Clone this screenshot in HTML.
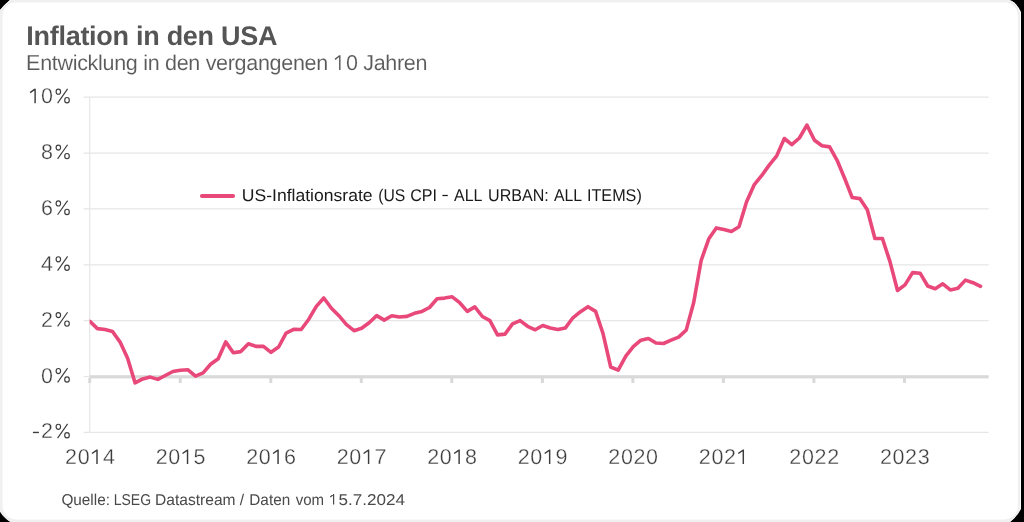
<!DOCTYPE html>
<html><head><meta charset="utf-8">
<style>
html,body{margin:0;padding:0;background:#000;width:1024px;height:522px;overflow:hidden}
svg{position:absolute;left:0;top:0;will-change:transform}
</style></head><body>
<svg width="1024" height="522" viewBox="0 0 1024 522" font-family="Liberation Sans" text-rendering="geometricPrecision">
 <path d="M10,0 L1009,0 Q1016,1.5 1021,12 L1021,509 Q1016,518 1010,522 L10.5,522 Q4,518 0,511.5 L0,10 Q4.5,4.5 10,0 Z" fill="#fff"/>
 <path d="M10,0 L1009,0 Q1016,1.5 1020,12 L1020,509 Q1016,518 1010,522 L10.5,522 Q4,518 0,511.5 L0,10 Q4.5,4.5 10,0 Z" fill="#f0f0f0"/>
 <rect x="2.6" y="2.6" width="1015.2" height="516.8" rx="13" fill="#fff"/>
 <text x="26.3" y="45" font-size="27" font-weight="bold" letter-spacing="-0.28" fill="#555">Inflation in den USA</text>
 <text x="26.1" y="70" font-size="21.5" letter-spacing="-0.3" fill="#5a5a5a" stroke="#fff" stroke-width="0.1">Entwicklung in den vergangenen <tspan x="345.9">0 Jahren</tspan></text>
 <path d="M339.8,69.9 V55.3 M339.65,55.75 L335.0,59.3" fill="none" stroke="#5a5a5a" stroke-width="1.45"/>
 <g stroke="#e6e6e6" stroke-width="1.2" fill="none">
  <line x1="83.6" y1="97.2" x2="988.7" y2="97.2"/>
  <line x1="83.6" y1="153.1" x2="988.7" y2="153.1"/>
  <line x1="83.6" y1="208.9" x2="988.7" y2="208.9"/>
  <line x1="83.6" y1="264.8" x2="988.7" y2="264.8"/>
  <line x1="83.6" y1="320.6" x2="988.7" y2="320.6"/>
  <line x1="83.6" y1="376.5" x2="988.7" y2="376.5"/>
  <line x1="83.6" y1="432.3" x2="988.7" y2="432.3"/>
  <line x1="89.7" y1="97.2" x2="89.7" y2="432.3"/>
 </g>
 <g fill="#d9d9d9">
  <rect x="89.7" y="375.2" width="899" height="3.2"/>
  <rect x="88.2" y="378" width="3" height="5"/>
  <rect x="178.7" y="378" width="3" height="5"/>
  <rect x="269.3" y="378" width="3" height="5"/>
  <rect x="359.8" y="378" width="3" height="5"/>
  <rect x="450.3" y="378" width="3" height="5"/>
  <rect x="540.9" y="378" width="3" height="5"/>
  <rect x="631.4" y="378" width="3" height="5"/>
  <rect x="721.9" y="378" width="3" height="5"/>
  <rect x="812.4" y="378" width="3" height="5"/>
  <rect x="903.0" y="378" width="3" height="5"/>
 </g>
 
 <g fill="none" stroke="#3d3d3d" stroke-width="1.15">
  <line x1="32.9" y1="432.45" x2="38.9" y2="432.45" stroke-width="1.4"/>
  <ellipse cx="58.35" cy="91.70" rx="2.25" ry="2.55"/><ellipse cx="67.00" cy="100.20" rx="2.3" ry="2.65"/><line x1="67.60" y1="88.85" x2="57.60" y2="103.05"/>
  <ellipse cx="58.35" cy="147.60" rx="2.25" ry="2.55"/><ellipse cx="67.00" cy="156.10" rx="2.3" ry="2.65"/><line x1="67.60" y1="144.75" x2="57.60" y2="158.95"/>
  <ellipse cx="58.35" cy="203.40" rx="2.25" ry="2.55"/><ellipse cx="67.00" cy="211.90" rx="2.3" ry="2.65"/><line x1="67.60" y1="200.55" x2="57.60" y2="214.75"/>
  <ellipse cx="58.35" cy="259.30" rx="2.25" ry="2.55"/><ellipse cx="67.00" cy="267.80" rx="2.3" ry="2.65"/><line x1="67.60" y1="256.45" x2="57.60" y2="270.65"/>
  <ellipse cx="58.35" cy="315.10" rx="2.25" ry="2.55"/><ellipse cx="67.00" cy="323.60" rx="2.3" ry="2.65"/><line x1="67.60" y1="312.25" x2="57.60" y2="326.45"/>
  <ellipse cx="58.35" cy="371.00" rx="2.25" ry="2.55"/><ellipse cx="67.00" cy="379.50" rx="2.3" ry="2.65"/><line x1="67.60" y1="368.15" x2="57.60" y2="382.35"/>
  <ellipse cx="58.35" cy="426.80" rx="2.25" ry="2.55"/><ellipse cx="67.00" cy="435.30" rx="2.3" ry="2.65"/><line x1="67.60" y1="423.95" x2="57.60" y2="438.15"/>
 </g>
 <g font-size="21.5" fill="#3d3d3d" text-anchor="middle" stroke="#fff" stroke-width="0.3">
  <text x="71.10" y="464">2</text>
  <text x="83.70" y="464">0</text>
  <text x="108.90" y="464">4</text>
  <text x="161.63" y="464">2</text>
  <text x="174.23" y="464">0</text>
  <text x="199.43" y="464">5</text>
  <text x="252.16" y="464">2</text>
  <text x="264.76" y="464">0</text>
  <text x="289.96" y="464">6</text>
  <text x="342.69" y="464">2</text>
  <text x="355.29" y="464">0</text>
  <text x="380.49" y="464">7</text>
  <text x="433.22" y="464">2</text>
  <text x="445.82" y="464">0</text>
  <text x="471.02" y="464">8</text>
  <text x="523.75" y="464">2</text>
  <text x="536.35" y="464">0</text>
  <text x="561.55" y="464">9</text>
  <text x="614.28" y="464">2</text>
  <text x="626.88" y="464">0</text>
  <text x="639.48" y="464">2</text>
  <text x="652.08" y="464">0</text>
  <text x="704.81" y="464">2</text>
  <text x="717.41" y="464">0</text>
  <text x="730.01" y="464">2</text>
  <text x="795.34" y="464">2</text>
  <text x="807.94" y="464">0</text>
  <text x="820.54" y="464">2</text>
  <text x="833.14" y="464">2</text>
  <text x="885.87" y="464">2</text>
  <text x="898.47" y="464">0</text>
  <text x="911.07" y="464">2</text>
  <text x="923.67" y="464">3</text>
  <text x="47.0" y="103.25">0</text>
  <text x="47.0" y="159.15">8</text>
  <text x="47.0" y="214.95">6</text>
  <text x="47.0" y="270.85">4</text>
  <text x="47.0" y="326.65">2</text>
  <text x="47.0" y="382.55">0</text>
  <text x="47.0" y="438.35">2</text>
 </g>
 <g fill="none" stroke="#3d3d3d" stroke-width="1.45">
  <path d="M97.00,464.00 V449.60 M96.85,450.05 L92.00,453.50" />
  <path d="M187.53,464.00 V449.60 M187.38,450.05 L182.53,453.50" />
  <path d="M278.06,464.00 V449.60 M277.91,450.05 L273.06,453.50" />
  <path d="M368.59,464.00 V449.60 M368.44,450.05 L363.59,453.50" />
  <path d="M459.12,464.00 V449.60 M458.97,450.05 L454.12,453.50" />
  <path d="M549.65,464.00 V449.60 M549.50,450.05 L544.65,453.50" />
  <path d="M743.31,464.00 V449.60 M743.16,450.05 L738.31,453.50" />
  <path d="M35.10,103.25 V88.65 M34.95,89.10 L30.10,92.55" />
 </g>
 <clipPath id="pc"><rect x="89.6" y="0" width="934" height="522"/></clipPath>
 <polyline clip-path="url(#pc)" fill="none" stroke="#e8497a" stroke-width="3.6" stroke-linejoin="round" stroke-linecap="round" points="82.3,319.0 89.9,321.4 97.4,328.6 105.0,329.5 112.5,331.5 120.1,342.1 127.6,358.3 135.1,382.9 142.7,378.9 150.2,377.1 157.8,379.4 165.3,375.5 172.9,371.5 180.4,370.2 188.0,369.8 195.5,376.2 203.1,372.9 210.6,364.3 218.2,358.7 225.7,341.9 233.3,352.8 240.8,351.6 248.4,343.7 255.9,346.4 263.5,346.4 271.0,352.3 278.6,347.0 286.1,333.2 293.7,329.4 301.2,329.5 308.8,319.2 316.3,306.4 323.8,298.0 331.4,308.3 338.9,315.7 346.5,324.7 354.0,330.7 361.6,328.3 369.1,322.7 376.7,315.6 384.2,320.1 391.8,315.8 399.3,317.0 406.9,316.4 414.4,313.3 422.0,311.4 429.5,307.5 437.1,298.8 444.6,298.1 452.2,296.8 459.7,302.7 467.3,311.4 474.8,306.9 482.4,316.5 489.9,320.6 497.5,334.9 505.0,334.1 512.5,323.9 520.1,320.6 527.6,326.3 535.2,329.8 542.7,325.5 550.3,328.0 557.8,329.5 565.4,327.9 572.9,317.8 580.5,311.7 588.0,306.7 595.6,311.4 603.1,333.8 610.7,367.0 618.2,370.1 625.8,356.1 633.3,346.6 640.9,340.2 648.4,338.5 656.0,343.0 663.5,343.5 671.1,340.2 678.6,337.1 686.2,330.1 693.7,302.5 701.2,260.3 708.8,238.8 716.3,227.9 723.9,229.6 731.4,231.5 739.0,226.8 746.5,201.9 754.1,184.9 761.6,175.7 769.2,165.1 776.7,155.9 784.3,138.5 791.8,144.7 799.4,138.0 806.9,125.1 814.5,140.2 822.0,145.8 829.6,146.9 837.1,160.3 844.7,178.5 852.2,197.5 859.8,198.6 867.3,209.8 874.9,238.5 882.4,238.5 889.9,261.4 897.5,290.5 905.0,284.9 912.6,272.6 920.1,273.2 927.7,286.0 935.2,288.8 942.8,283.8 950.3,289.9 957.9,288.2 965.4,280.1 973.0,282.7 980.5,286.3"/>
 <line x1="202" y1="196" x2="233" y2="196" stroke="#e8497a" stroke-width="4.2" stroke-linecap="round"/>
 <text y="201" font-size="17" fill="#1a1a1a"><tspan x="241.77" textLength="130.88" lengthAdjust="spacingAndGlyphs">US-Inflationsrate</tspan><tspan x="378.18" textLength="27.09" lengthAdjust="spacingAndGlyphs">(US</tspan><tspan x="410.15" textLength="26.82" lengthAdjust="spacingAndGlyphs">CPI</tspan><tspan x="454.1" textLength="28.33" lengthAdjust="spacingAndGlyphs">ALL</tspan><tspan x="488.05" textLength="60.71" lengthAdjust="spacingAndGlyphs">URBAN:</tspan><tspan x="554.0" textLength="28.13" lengthAdjust="spacingAndGlyphs">ALL</tspan><tspan x="587.0" textLength="54.78" lengthAdjust="spacingAndGlyphs">ITEMS)</tspan></text>
 <line x1="442.4" y1="195.5" x2="447.8" y2="195.5" stroke="#1a1a1a" stroke-width="1.25"/>
 <text y="504.6" font-size="15.7" fill="#4a4a4a"><tspan x="61.42" textLength="48.56" lengthAdjust="spacingAndGlyphs">Quelle:</tspan><tspan x="113.71" textLength="37.36" lengthAdjust="spacingAndGlyphs">LSEG</tspan><tspan x="155.11" textLength="80.48" lengthAdjust="spacingAndGlyphs">Datastream</tspan><tspan x="239.8">/</tspan><tspan x="249.33" textLength="40.83" lengthAdjust="spacingAndGlyphs">Daten</tspan><tspan x="295.7" textLength="28.41" lengthAdjust="spacingAndGlyphs">vom</tspan><tspan x="338.41" textLength="66.55" lengthAdjust="spacingAndGlyphs">5.7.2024</tspan></text>
 <path d="M333.6,504.6 V494.0 M333.45,494.4 L330.2,496.9" fill="none" stroke="#4a4a4a" stroke-width="1.2"/>
</svg>
</body></html>
